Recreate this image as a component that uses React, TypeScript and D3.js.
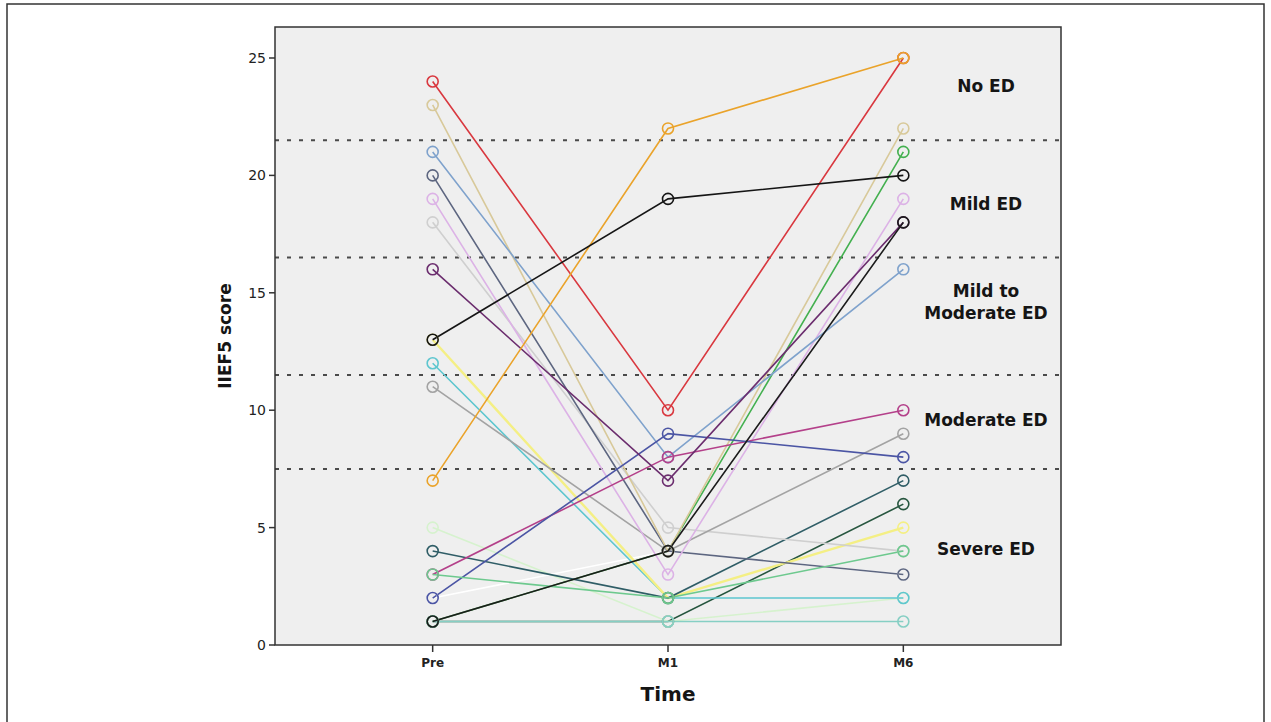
import React from 'react';
import * as d3 from 'd3';

// time points on the x axis
const timepoints = ['Pre', 'M1', 'M6'];

// one entry per patient, drawn in this order
const subjectColors = [
  '#27563f', '#43b04f', '#ffffff', '#d6f2ce', '#86cfc4', '#5ec6cf', '#f4ef84',
  '#2f5d66', '#cfcfcf', '#a3a3a3', '#5d6680', '#d8c99a', '#dcb2e6', '#7fa2cc',
  '#b4408a', '#4b55a4', '#6b2d6e', '#6dc98e', '#d9383f', '#eaa32a', '#1b1b1b', '#151515',
];
const preScores = [1, 1, 2, 5, 1, 12, 13, 4, 18, 11, 20, 23, 19, 21, 3, 2, 16, 3, 24, 7, 1, 13];
const m1Scores = [1, 4, 4, 1, 1, 2, 2, 2, 5, 4, 4, 4, 3, 8, 8, 9, 7, 2, 10, 22, 4, 19];
const m6Scores = [6, 21, 3, 2, 1, 2, 5, 7, 4, 9, 3, 22, 19, 16, 10, 8, 18, 4, 25, 25, 18, 20];

// ED severity cut-offs and band labels
const cutoffs = [7.5, 11.5, 16.5, 21.5];
const bandLabels = [['No ED'], ['Mild ED'], ['Mild to', 'Moderate ED'], ['Moderate ED'], ['Severe ED']];
const bandLabelValues = [23.8, 18.8, 14.6, 9.6, 4.1];
const yTicks = [0, 5, 10, 15, 20, 25];

const W = 1271;
const H = 722;
const plot = { left: 275, right: 1061, top: 27, bottom: 645 };

const App = () => {
  const x = d3.scalePoint<string>()
    .domain(timepoints)
    .range([plot.left, plot.right])
    .padding(0.67);

  const y = d3.scaleLinear()
    .domain([0, 26.32])
    .range([plot.bottom, plot.top]);

  const subjects = subjectColors.map((color, i) => ({
    color,
    values: [preScores[i], m1Scores[i], m6Scores[i]],
  }));

  const line = d3.line<number>()
    .x((d, i) => x(timepoints[i]) as number)
    .y(d => y(d));

  const labelX = 986;
  const font = '"DejaVu Sans", Verdana, sans-serif';

  return (
    <svg width={W} height={H} style={{ position: 'absolute', left: 0, top: 0, background: '#fff' }}
      fontFamily={font}>
      {/* outer figure frame */}
      <rect x={7} y={4} width={1257} height={740} fill="none" stroke="#333" strokeWidth={1.5} />

      {/* plot background */}
      <rect x={plot.left} y={plot.top} width={plot.right - plot.left} height={plot.bottom - plot.top}
        fill="#efefef" />

      {/* cut-off lines */}
      {cutoffs.map(c => (
        <line key={c} x1={plot.left} x2={plot.right} y1={y(c)} y2={y(c)}
          stroke="#4a4a4a" strokeWidth={2} strokeDasharray="4,8" />
      ))}

      {/* patient lines */}
      {subjects.map((s, i) => (
        <path key={'l' + i} d={line(s.values) || ''} fill="none" stroke={s.color}
          strokeWidth={s.color === '#f4ef84' ? 2.4 : 1.6} />
      ))}

      {/* patient markers */}
      {subjects.map((s, i) => (
        <g key={'c' + i}>
          {s.values.map((v, j) => (
            <circle key={j} cx={x(timepoints[j])} cy={y(v)} r={5.5} fill="none"
              stroke={s.color} strokeWidth={1.6} />
          ))}
        </g>
      ))}

      {/* plot frame */}
      <rect x={plot.left} y={plot.top} width={plot.right - plot.left} height={plot.bottom - plot.top}
        fill="none" stroke="#333" strokeWidth={1.5} />

      {/* band labels */}
      {bandLabels.map((lines, i) => (
        <text key={i} x={labelX} textAnchor="middle" fontSize={17} fontWeight="bold" fill="#151515">
          {lines.map((t, k) => (
            <tspan key={k} x={labelX}
              y={y(bandLabelValues[i]) + 6 + (k - (lines.length - 1) / 2) * 22}>{t}</tspan>
          ))}
        </text>
      ))}

      {/* y axis */}
      {yTicks.map(t => (
        <g key={t}>
          <line x1={plot.left - 6} x2={plot.left} y1={y(t)} y2={y(t)} stroke="#333" strokeWidth={1.5} />
          <text x={plot.left - 9} y={y(t) + 5} textAnchor="end" fontSize={14} fill="#222">{t}</text>
        </g>
      ))}
      <text transform={`translate(231,${(plot.top + plot.bottom) / 2}) rotate(-90)`}
        textAnchor="middle" fontSize={17} fontWeight="bold" fill="#151515">IIEF5 score</text>

      {/* x axis */}
      {timepoints.map(t => (
        <g key={t}>
          <line x1={x(t)} x2={x(t)} y1={plot.bottom} y2={plot.bottom + 7} stroke="#333" strokeWidth={1.5} />
          <text x={x(t)} y={plot.bottom + 22} textAnchor="middle" fontSize={12} fontWeight="bold"
            fill="#222">{t}</text>
        </g>
      ))}
      <text x={(x('M1') as number)} y={701} textAnchor="middle" fontSize={20} fontWeight="bold"
        fill="#151515">Time</text>
    </svg>
  );
};

export default App;
